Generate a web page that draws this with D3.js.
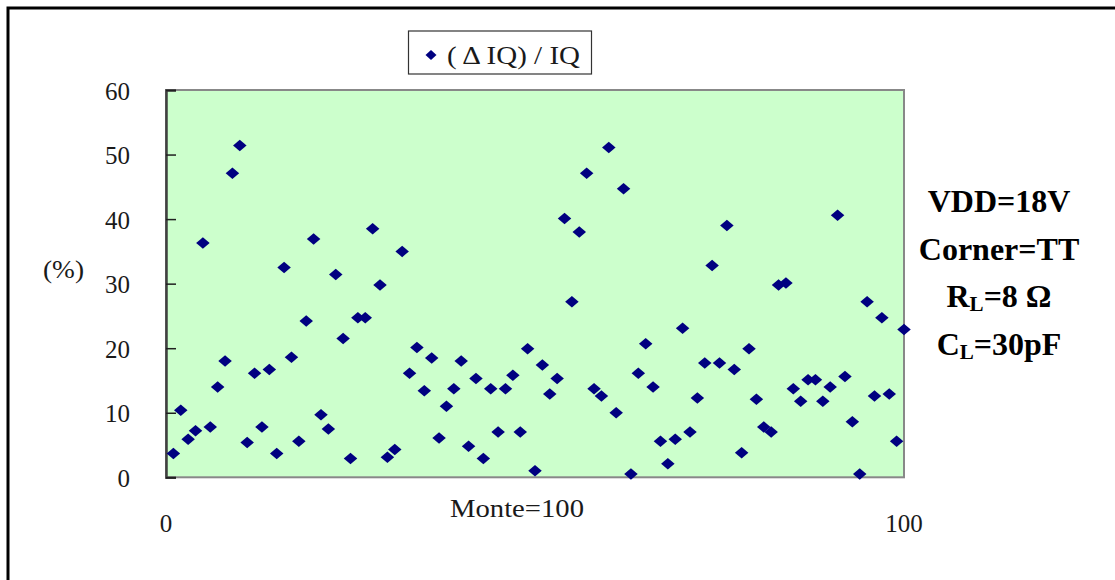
<!DOCTYPE html>
<html>
<head>
<meta charset="utf-8">
<script src="https://cdn.jsdelivr.net/npm/d3@7"></script>
<style>
  html, body { margin: 0; padding: 0; background: #ffffff; }
  svg { display: block; }
  text { font-family: "Liberation Serif", "DejaVu Serif", serif; }
</style>
</head>
<body>
<svg id="chart" width="1115" height="580"></svg>
<script>
// Monte Carlo run index (1..100) and relative quiescent-current deviation (%)
const runs = d3.range(1, 101);
const deltaIQ = [
  3.7, 10.4, 5.9, 7.2, 36.3, 7.8, 14.0, 18.0, 47.1, 51.4,
  5.4, 16.1, 7.8, 16.7, 3.7, 32.5, 18.6, 5.6, 24.2, 36.9,
  9.7, 7.5, 31.4, 21.5, 2.9, 24.7, 24.7, 38.5, 29.8, 3.1,
  4.3, 35.0, 16.1, 20.1, 13.4, 18.5, 6.1, 11.0, 13.7, 18.0,
  4.8, 15.3, 2.9, 13.7, 7.0, 13.7, 15.8, 7.0, 19.9, 1.0,
  17.4, 12.9, 15.3, 40.1, 27.2, 38.0, 47.1, 13.7, 12.6, 51.1,
  10.0, 44.7, 0.5, 16.1, 20.7, 14.0, 5.6, 2.1, 5.9, 23.1,
  7.0, 12.3, 17.7, 32.8, 17.7, 39.0, 16.7, 3.8, 19.9, 12.1,
  7.8, 7.0, 29.8, 30.1, 13.7, 11.8, 15.1, 15.1, 11.8, 14.0,
  40.6, 15.6, 8.6, 0.5, 27.2, 12.6, 24.7, 12.9, 5.6, 22.9
];
const yTicks = [0, 10, 20, 30, 40, 50, 60];
const xTickLabels = [0, 100];
const seriesName = "( \u0394 IQ) / IQ";
const xTitle = "Monte=100";
const yTitle = "(%)";
const conditions = [
  { main: "VDD=18V" },
  { main: "Corner=TT" },
  { main: "R", sub: "L", rest: "=8 \u03A9" },
  { main: "C", sub: "L", rest: "=30pF" }
];

const svg = d3.select("#chart");
const plot = { left: 166, right: 904, top: 90, bottom: 477.3 };

const x = d3.scaleLinear().domain([0, 100]).range([plot.left, plot.right]);
const y = d3.scaleLinear().domain([0, 60]).range([plot.bottom, plot.top]);

// flattened diamond marker (slightly wider than tall)
function diamondPath(w, h) {
  const p = d3.path();
  p.moveTo(0, -h / 2);
  p.lineTo(w / 2, 0);
  p.lineTo(0, h / 2);
  p.lineTo(-w / 2, 0);
  p.closePath();
  return p.toString();
}

// outer chart frame (only top and left edges fall inside the page)
svg.append("path")
  .attr("d", "M8,580 L8,8 L1115,8")
  .attr("fill", "none")
  .attr("stroke", "#000")
  .attr("stroke-width", 3);

// plot background
svg.append("rect")
  .attr("x", plot.left).attr("y", plot.top)
  .attr("width", plot.right - plot.left)
  .attr("height", plot.bottom - plot.top)
  .attr("fill", "#CCFFCC")
  .attr("stroke", "#888888")
  .attr("stroke-width", 2);

// y axis: ticks point into the plot, labels sit to the left
const yAxis = d3.axisRight(y).tickValues(yTicks).tickSize(10).tickFormat("");
const yg = svg.append("g").attr("transform", `translate(${plot.left},0)`).call(yAxis);
yg.select(".domain").attr("stroke", "#404040").attr("stroke-width", 2.5);
yg.selectAll(".tick line").attr("stroke", "#202020").attr("stroke-width", 1.5);

svg.append("g").selectAll("text")
  .data(yTicks)
  .join("text")
  .attr("x", 130)
  .attr("y", d => y(d) + 4)
  .attr("text-anchor", "end")
  .attr("dominant-baseline", "middle")
  .attr("font-size", 25)
  .attr("fill", "#1a1a1a")
  .text(d => d);

// x axis labels
svg.append("g").selectAll("text")
  .data(xTickLabels)
  .join("text")
  .attr("x", d => x(d))
  .attr("y", 532)
  .attr("text-anchor", "middle")
  .attr("font-size", 25)
  .attr("fill", "#1a1a1a")
  .text(d => d);

svg.append("text")
  .attr("x", 450).attr("y", 517)
  .attr("font-size", 25)
  .attr("fill", "#1a1a1a")
  .attr("textLength", 134)
  .attr("lengthAdjust", "spacingAndGlyphs")
  .text(xTitle);

svg.append("text")
  .attr("x", 43).attr("y", 278)
  .attr("font-size", 25)
  .attr("fill", "#1a1a1a")
  .attr("textLength", 41)
  .attr("lengthAdjust", "spacingAndGlyphs")
  .text(yTitle);

// data markers
svg.append("g").selectAll("path")
  .data(runs.map((r, i) => ({ r, v: deltaIQ[i] })))
  .join("path")
  .attr("d", diamondPath(13.5, 11.5))
  .attr("transform", d => `translate(${x(d.r)},${y(d.v)})`)
  .attr("fill", "#000080");

// legend
const lg = svg.append("g");
lg.append("rect")
  .attr("x", 408.5).attr("y", 31)
  .attr("width", 183).attr("height", 43)
  .attr("fill", "#fff")
  .attr("stroke", "#333")
  .attr("stroke-width", 1.2);
lg.append("path")
  .attr("d", diamondPath(11, 10))
  .attr("transform", "translate(431,55)")
  .attr("fill", "#000080");
lg.append("text")
  .attr("x", 447).attr("y", 64)
  .attr("font-size", 26)
  .attr("fill", "#1a1a1a")
  .attr("textLength", 133)
  .attr("lengthAdjust", "spacingAndGlyphs")
  .text(seriesName);

// simulation conditions
const cg = svg.append("g");
const baselines = [212, 260, 307, 355];
conditions.forEach((c, i) => {
  const t = cg.append("text")
    .attr("x", 999).attr("y", baselines[i])
    .attr("text-anchor", "middle")
    .attr("font-size", 32)
    .attr("font-weight", "bold")
    .attr("fill", "#000");
  t.append("tspan").text(c.main);
  if (c.sub) {
    t.append("tspan").attr("font-size", 21).attr("dy", 4).text(c.sub);
    t.append("tspan").attr("dy", -4).text(c.rest);
  }
});
</script>
</body>
</html>
